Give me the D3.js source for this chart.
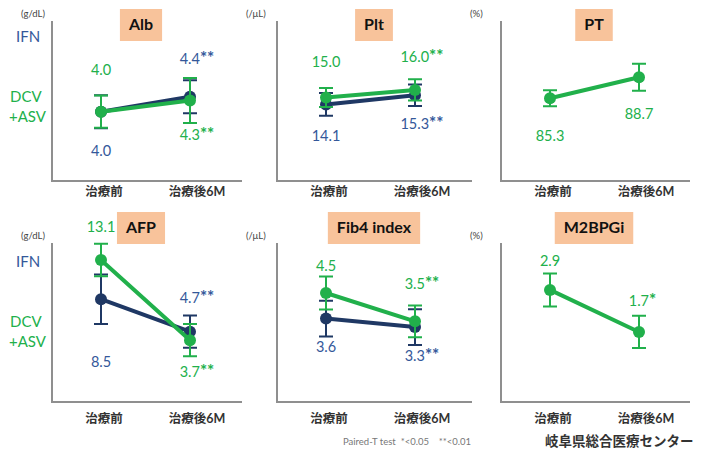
<!DOCTYPE html>
<html>
<head>
<meta charset="utf-8">
<script src="https://cdn.jsdelivr.net/npm/d3@7"></script>
<style>
  body { margin: 0; background: #fff; }
  text { font-family: Lato, "Noto Sans CJK JP", sans-serif; }
</style>
</head>
<body>
<svg id="chart" width="705" height="450"></svg>
<script>
// data
const categories = ["治療前", "治療後6M"];
const panelNames = ["Alb", "Plt", "PT", "AFP", "Fib4 index", "M2BPGi"];
const panelUnits = ["(g/dL)", "(/μL)", "(%)", "(g/dL)", "(/μL)", "(%)"];
const ifnMean = [[4.0, 4.4], [14.1, 15.3], null, [8.5, 4.7], [3.6, 3.3], null];
const ifnSd   = [[0.44, 0.44], [1.5, 1.4], null, [2.9, 1.9], [0.63, 0.63], null];
const ifnSig  = [["", "**"], ["", "**"], null, ["", "**"], ["", "**"], null];
const dcvMean = [[4.0, 4.3], [15.0, 16.0], [85.3, 88.7], [13.1, 3.7], [4.5, 3.5], [2.9, 1.7]];
const dcvSd   = [[0.43, 0.6], [1.25, 1.4], [1.3, 2.2], [1.9, 1.9], [0.58, 0.56], [0.47, 0.46]];
const dcvSig  = [["", "**"], ["", "**"], ["", ""], ["", "**"], ["", "**"], ["", "*"]];
// y範囲（目盛りなしの図なので見た目に合わせる）
const yDomains = [[2.15, 6.42], [4.06, 25.03], [71.9, 97.8], [-3.55, 15.09], [0.66, 6.26], [-0.3, 4.24]];

// layout
const colX = [52, 277, 501];
const axisLen = [190, 195, 189];
const titleCx = [141, 374, 594];
const rowTop = [21, 243], rowBottom = [181, 402];
const titleCy = [25, 228];
const ifnDy = [[40, -37], [33, 30], null, [64, -33], [29, 30], null];
const dcvDy = [[-41, 36], [-35, -32], [39, 38], [-32, 33], [-26, -36], [-28, -30]];

const navy = "#1f3864", navyText = "#34589a", green = "#21b04b";
const svg = d3.select("#chart");

panelNames.forEach((name, i) => {
  const col = i % 3, row = Math.floor(i / 3);
  const ax = colX[col], top = rowTop[row], bottom = rowBottom[row];
  const g = svg.append("g");

  const x = d3.scalePoint().domain(categories).range([ax + 49, ax + 138]);
  const y = d3.scaleLinear().domain(yDomains[i]).range([bottom, top]);

  // 軸
  g.append("path")
    .attr("d", `M${ax},${top} V${bottom} H${ax + axisLen[col]}`)
    .attr("fill", "none")
    .attr("stroke", "#8f8f8f")
    .attr("stroke-width", 2);

  g.selectAll(".xl").data(categories).join("text")
    .attr("x", (d, k) => x(d) + (k ? 7 : 3))
    .attr("y", bottom + (row ? 18 : 12))
    .attr("text-anchor", "middle")
    .attr("dominant-baseline", "middle")
    .attr("font-size", 12.5)
    .attr("font-weight", "bold")
    .attr("fill", "#333")
    .text(d => d);

  g.append("text")
    .attr("x", ax - 31).attr("y", top - 6)
    .attr("dominant-baseline", "middle")
    .attr("font-size", 9.5)
    .attr("fill", "#444")
    .text(panelUnits[i]);

  // タイトル
  const tt = g.append("text")
    .attr("x", titleCx[col]).attr("y", titleCy[row] + 1)
    .attr("text-anchor", "middle")
    .attr("dominant-baseline", "middle")
    .attr("font-size", 16)
    .attr("font-weight", "bold")
    .attr("fill", "#111")
    .text(name);
  const bw = tt.node().getComputedTextLength() + 18;
  g.insert("rect", "text:last-child")
    .attr("x", titleCx[col] - bw / 2).attr("y", titleCy[row] - 16)
    .attr("width", bw).attr("height", 32)
    .attr("fill", "#f8c39b");
  tt.raise();

  const series = [];
  if (ifnMean[i]) series.push({ mean: ifnMean[i], sd: ifnSd[i], sig: ifnSig[i], dy: ifnDy[i], line: navy, text: navyText });
  series.push({ mean: dcvMean[i], sd: dcvSd[i], sig: dcvSig[i], dy: dcvDy[i], line: green, text: green });

  series.forEach(s => {
    const pts = categories.map((c, k) => ({ c, m: s.mean[k], sd: s.sd[k], sig: s.sig[k], dy: s.dy[k] }));
    const sg = g.append("g");

    // エラーバー
    pts.forEach(p => {
      const cx = x(p.c);
      sg.append("path")
        .attr("d", `M${cx},${y(p.m - p.sd)} V${y(p.m + p.sd)}` +
                   ` M${cx - 7},${y(p.m - p.sd)} H${cx + 7}` +
                   ` M${cx - 7},${y(p.m + p.sd)} H${cx + 7}`)
        .attr("fill", "none")
        .attr("stroke", s.line)
        .attr("stroke-width", 2);
    });

    sg.append("path")
      .datum(pts)
      .attr("d", d3.line().x(d => x(d.c)).y(d => y(d.m)))
      .attr("fill", "none")
      .attr("stroke", s.line)
      .attr("stroke-width", 4)
      .attr("stroke-linecap", "round");

    sg.selectAll("circle").data(pts).join("circle")
      .attr("cx", d => x(d.c))
      .attr("cy", d => y(d.m))
      .attr("r", 6)
      .attr("fill", s.line);

    const lbl = sg.selectAll(".val").data(pts).join("text")
      .attr("x", d => x(d.c) + d.sig.length * 3.5)
      .attr("y", d => y(d.m) + d.dy)
      .attr("text-anchor", "middle")
      .attr("dominant-baseline", "middle")
      .attr("font-size", 14.5)
      .attr("fill", s.text);
    lbl.append("tspan").text(d => d.m.toFixed(1));
    lbl.append("tspan").attr("font-size", 17).attr("font-weight", "bold").text(d => d.sig);
  });
});

// 凡例
[0, 1].forEach(row => {
  const off = row ? 225 : 0;
  svg.append("text").attr("x", 16).attr("y", 38 + off)
    .attr("dominant-baseline", "middle").attr("font-size", 15)
    .attr("fill", navyText).text("IFN");
  svg.append("text").attr("x", 10).attr("y", 98 + off)
    .attr("dominant-baseline", "middle").attr("font-size", 15)
    .attr("fill", green).text("DCV");
  svg.append("text").attr("x", 9).attr("y", 118 + off)
    .attr("dominant-baseline", "middle").attr("font-size", 15)
    .attr("fill", green).text("+ASV");
});

svg.append("text")
  .attr("x", 343).attr("y", 443)
  .attr("dominant-baseline", "middle")
  .attr("font-size", 9.5)
  .attr("fill", "#777")
  .attr("xml:space", "preserve")
  .text("Paired-T test  *<0.05    **<0.01");

svg.append("text")
  .attr("x", 545).attr("y", 443)
  .attr("dominant-baseline", "middle")
  .attr("font-size", 13.5)
  .attr("font-weight", "bold")
  .attr("fill", "#333")
  .text("岐阜県総合医療センター");
</script>
</body>
</html>
